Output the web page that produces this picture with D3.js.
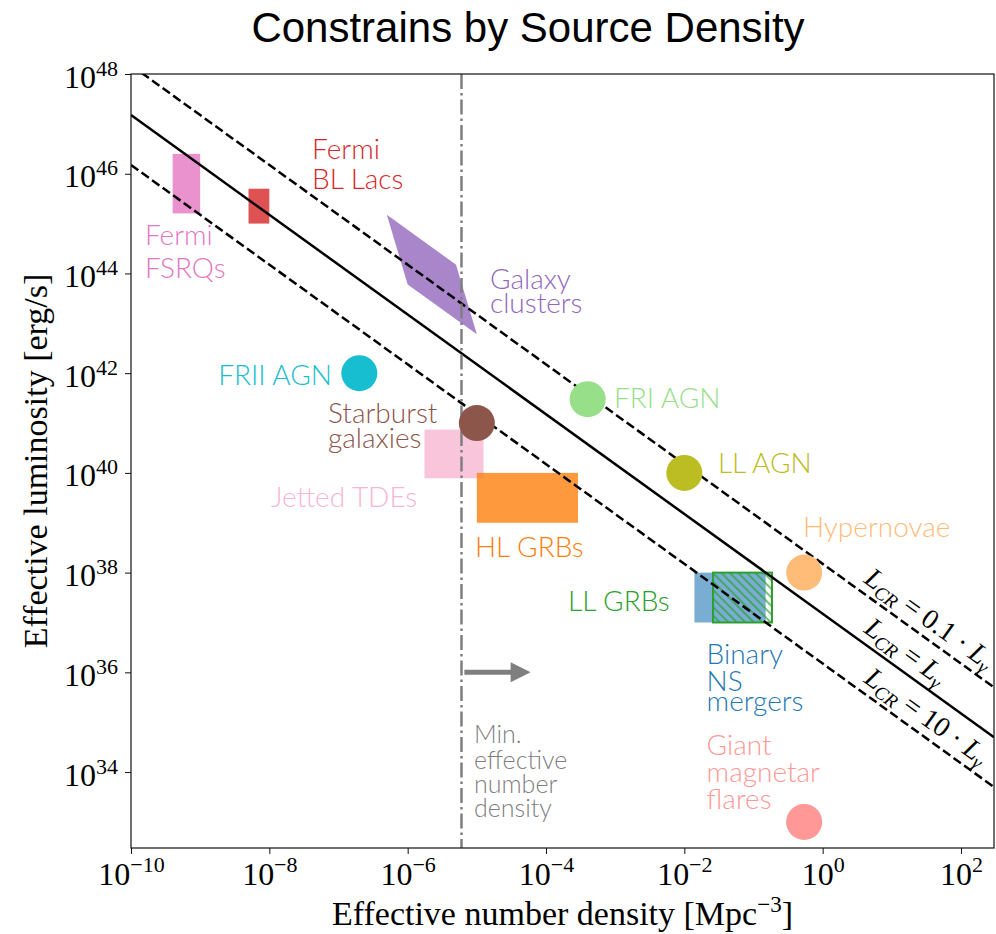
<!DOCTYPE html>
<html>
<head>
<meta charset="utf-8">
<script src="https://cdn.jsdelivr.net/npm/d3@7"></script>
<style>
  body { margin: 0; background: #fff; }
  svg { display: block; }
</style>
</head>
<body>
<div id="container"></div>
<script>
// boxes: number density range [Mpc^-3] and luminosity range [erg/s]
var boxNames  = ["Fermi FSRQs", "Fermi BL Lacs", "Jetted TDEs", "HL GRBs", "Binary NS mergers"];
var boxN      = [[4e-10, 1e-9], [5e-9, 1e-8], [1.75e-6, 1.25e-5], [1e-5, 2.9e-4], [1.4e-2, 1.5e-1]];
var boxL      = [[1.6e45, 2.5e46], [1e45, 5e45], [7.8e39, 7.4e40], [1e39, 1e40], [1e37, 1e38]];
var boxColors = ["#e377c2", "#d62728", "#f7b6d2", "#ff7f0e", "#1f77b4"];

// LL GRBs, hatched box
var hatchN = [2.6e-2, 1.85e-1];
var hatchL = [1e37, 1e38];

// galaxy clusters parallelogram [n, L]
var clusterPoly = [[5e-7, 1.5e45], [5e-6, 1.5e44], [1e-5, 6e42], [1e-6, 6e43]];

// single points
var pointNames  = ["FRII AGN", "FRI AGN", "Starburst galaxies", "LL AGN", "Hypernovae", "Giant magnetar flares"];
var pointN      = [2e-7, 4e-4, 1e-5, 1e-2, 0.54, 0.54];
var pointL      = [1e42, 3e41, 1e41, 1e40, 1e38, 1e33];
var pointColors = ["#17becf", "#98df8a", "#8c564b", "#bcbd22", "#ffbb78", "#ff9896"];

// L * n = const lines
var lineConst  = [1.5e38, 1.5e37, 1.5e36];
var lineFactor = ["0.1 · ", "", "10 · "];

var minDensity = 6e-6;
var arrowN = [6.6e-6, 6e-5];
var arrowL = 1e36;

var xTickExp = [-10, -8, -6, -4, -2, 0, 2];
var yTickExp = [34, 36, 38, 40, 42, 44, 46, 48];

// text annotations (anchored at data coords)
var labels = [
  { lines: ["Fermi", "BL Lacs"], n: 4.14e-8, L: 1.97e46, color: "#d62728", step: [30] },
  { lines: ["Fermi", "FSRQs"], n: 1.59e-10, L: 3.7e44, color: "#e377c2", step: [33] },
  { lines: ["Galaxy", "clusters"], n: 1.55e-5, L: 4.9e43, color: "#9467bd", step: [24] },
  { lines: ["FRII AGN"], n: 8.05e-8, L: 5.8e41, color: "#17becf", anchor: "end" },
  { lines: ["Starburst", "galaxies"], n: 7.05e-8, L: 1e41, color: "#8c564b", step: [25] },
  { lines: ["Jetted TDEs"], n: 1.06e-8, L: 2.07e39, color: "#f7b6d2" },
  { lines: ["FRI AGN"], n: 9.6e-4, L: 2e41, color: "#98df8a" },
  { lines: ["LL AGN"], n: 3.06e-2, L: 1e40, color: "#bcbd22" },
  { lines: ["HL GRBs"], n: 9.4e-6, L: 2.1e38, color: "#ff7f0e" },
  { lines: ["Hypernovae"], n: 0.52, L: 5.1e38, color: "#ffbb78" },
  { lines: ["LL GRBs"], n: 2.08e-4, L: 1.7e37, color: "#2ca02c" },
  { lines: ["Binary", "NS", "mergers"], n: 2.1e-2, L: 1.48e36, color: "#1f77b4", step: [27, 20] },
  { lines: ["Giant", "magnetar", "flares"], n: 2.1e-2, L: 2.2e34, color: "#ff9896", step: [27, 27] },
  { lines: ["Min.", "effective", "number", "density"], n: 9.1e-6, L: 3.8e34, color: "#7f7f7f", step: [26, 24, 24], size: 25 }
];

var width = 996, height = 934;
var padL = 131, padR = 994, padT = 74, padB = 848;
var serif = "'Liberation Serif', 'DejaVu Serif', serif";
var sans = "Lato, 'Open Sans', sans-serif";

var svg = d3.select("#container").append("svg")
  .attr("width", width)
  .attr("height", height);

var x = d3.scaleLog().domain([1e-10, 3e2]).range([padL, padR]);
var y = d3.scaleLog().domain([3e32, 1e48]).range([padB, padT]);

svg.append("text")
  .attr("x", 528).attr("y", 42)
  .attr("text-anchor", "middle")
  .style("font-family", "'Liberation Sans', Arial, sans-serif")
  .style("font-size", "42px")
  .text("Constrains by Source Density");

var defs = svg.append("defs");
defs.append("clipPath").attr("id", "plotclip")
  .append("rect").attr("x", padL).attr("y", padT)
  .attr("width", padR - padL).attr("height", padB - padT);

var hatch = defs.append("pattern")
  .attr("id", "hatch")
  .attr("patternUnits", "userSpaceOnUse")
  .attr("width", 6).attr("height", 6)
  .attr("patternTransform", "rotate(-45)");
hatch.append("line")
  .attr("x1", 3).attr("y1", -1).attr("x2", 3).attr("y2", 7)
  .style("stroke", "#2ca02c").style("stroke-width", 1.3);

var plot = svg.append("g").attr("clip-path", "url(#plotclip)");

// boxes
plot.selectAll("rect.box")
  .data(boxNames)
  .enter().append("rect")
  .attr("class", "box")
  .attr("x", function(d, i) { return x(boxN[i][0]); })
  .attr("y", function(d, i) { return y(boxL[i][1]); })
  .attr("width", function(d, i) { return x(boxN[i][1]) - x(boxN[i][0]); })
  .attr("height", function(d, i) { return y(boxL[i][0]) - y(boxL[i][1]); })
  .style("fill", function(d, i) { return boxColors[i]; })
  .style("fill-opacity", function(d, i) { return d == "Binary NS mergers" ? 0.6 : 0.8; });

// LL GRBs hatched
plot.append("rect")
  .attr("x", x(hatchN[0]))
  .attr("y", y(hatchL[1]))
  .attr("width", x(hatchN[1]) - x(hatchN[0]))
  .attr("height", y(hatchL[0]) - y(hatchL[1]))
  .style("fill", "url(#hatch)")
  .style("stroke", "#2ca02c")
  .style("stroke-width", 2);

// galaxy clusters
plot.append("path")
  .datum(clusterPoly)
  .attr("d", d3.line().x(function(d) { return x(d[0]); }).y(function(d) { return y(d[1]); }).curve(d3.curveLinearClosed))
  .style("fill", "#9467bd")
  .style("fill-opacity", 0.8);

// constant L*n lines
var nRange = x.domain();
plot.selectAll("line.const")
  .data(lineConst)
  .enter().append("line")
  .attr("class", "const")
  .attr("x1", x(nRange[0])).attr("x2", x(nRange[1]))
  .attr("y1", function(c) { return y(c / nRange[0]); })
  .attr("y2", function(c) { return y(c / nRange[1]); })
  .style("stroke", "#000")
  .style("stroke-width", 2.5)
  .style("stroke-dasharray", function(c, i) { return i == 1 ? null : "9,4"; });

// min density line
plot.append("line")
  .attr("x1", x(minDensity)).attr("x2", x(minDensity))
  .attr("y1", padT).attr("y2", padB)
  .style("stroke", "#7f7f7f")
  .style("stroke-width", 2.5)
  .style("stroke-dasharray", "15,4,2.5,4");

// arrow
var ax0 = x(arrowN[0]), ax1 = x(arrowN[1]), ay = y(arrowL);
plot.append("line")
  .attr("x1", ax0).attr("x2", ax1 - 18)
  .attr("y1", ay).attr("y2", ay)
  .style("stroke", "#7f7f7f")
  .style("stroke-width", 5);
plot.append("path")
  .attr("d", "M" + (ax1 - 20) + "," + (ay - 10) + "L" + ax1 + "," + ay + "L" + (ax1 - 20) + "," + (ay + 10) + "Z")
  .style("fill", "#7f7f7f");

// points
plot.selectAll("circle")
  .data(pointNames)
  .enter().append("circle")
  .attr("cx", function(d, i) { return x(pointN[i]); })
  .attr("cy", function(d, i) { return y(pointL[i]); })
  .attr("r", 18)
  .style("fill", function(d, i) { return pointColors[i]; });

// line labels
var angle = Math.atan2(y(1e40) - y(1e41), x(10) - x(1)) * 180 / Math.PI;
var labN = 3.2;
lineConst.forEach(function(c, i) {
  var px = x(labN), py = y(c / labN);
  var t = svg.append("text")
    .attr("transform", "translate(" + px + "," + py + ") rotate(" + angle + ")")
    .attr("y", -9)
    .style("font-family", serif)
    .style("font-size", "28px");
  t.append("tspan").style("font-style", "italic").text("L");
  t.append("tspan").style("font-style", "italic").style("font-size", "19px").attr("dy", 5).text("CR");
  t.append("tspan").attr("dy", -5).text(" = " + lineFactor[i]);
  t.append("tspan").style("font-style", "italic").text("L");
  t.append("tspan").style("font-style", "italic").style("font-size", "19px").attr("dy", 5).text("γ");
});

// annotations
labels.forEach(function(lab) {
  var t = svg.append("text")
    .attr("x", x(lab.n))
    .attr("y", y(lab.L))
    .attr("text-anchor", lab.anchor || "start")
    .style("font-family", sans)
    .style("font-weight", 300)
    .style("font-size", (lab.size || 28) + "px")
    .style("fill", lab.color);
  lab.lines.forEach(function(s, j) {
    t.append("tspan")
      .attr("x", x(lab.n))
      .attr("dy", j == 0 ? 0 : lab.step[j - 1])
      .text(s);
  });
});

// frame
svg.append("rect")
  .attr("x", padL).attr("y", padT)
  .attr("width", padR - padL).attr("height", padB - padT)
  .style("fill", "none")
  .style("stroke", "#111")
  .style("stroke-width", 1.2);

// axes
var xAxis = svg.append("g")
  .attr("transform", "translate(0," + padB + ")")
  .call(d3.axisBottom(x).tickValues(xTickExp.map(function(e) { return Math.pow(10, e); })).tickSize(6).tickFormat(""));
xAxis.select(".domain").remove();
xAxis.selectAll(".tick line").style("stroke", "#111");
xAxis.selectAll(".tick").append("text")
  .attr("y", 37)
  .attr("text-anchor", "middle")
  .style("fill", "#000")
  .style("font-family", serif)
  .each(function(d, i) {
    var t = d3.select(this);
    var e = xTickExp[i];
    t.append("tspan").style("font-size", "32px").text("10");
    t.append("tspan").style("font-size", "22px").attr("dy", -13).text(e < 0 ? "−" + (-e) : e);
  });

var yAxis = svg.append("g")
  .attr("transform", "translate(" + padL + ",0)")
  .call(d3.axisLeft(y).tickValues(yTickExp.map(function(e) { return Math.pow(10, e); })).tickSize(6).tickFormat(""));
yAxis.select(".domain").remove();
yAxis.selectAll(".tick line").style("stroke", "#111");
yAxis.selectAll(".tick").append("text")
  .attr("x", -13)
  .attr("y", 13)
  .attr("text-anchor", "end")
  .style("fill", "#000")
  .style("font-family", serif)
  .each(function(d, i) {
    var t = d3.select(this);
    t.append("tspan").style("font-size", "32px").text("10");
    t.append("tspan").style("font-size", "22px").attr("dy", -12).text(yTickExp[i]);
  });

// axis titles
var xt = svg.append("text")
  .attr("x", (padL + padR) / 2).attr("y", 925)
  .attr("text-anchor", "middle")
  .style("font-family", serif)
  .style("font-size", "34px");
xt.append("tspan").text("Effective number density [Mpc");
xt.append("tspan").style("font-size", "23px").attr("dy", -13).text("−3");
xt.append("tspan").attr("dy", 13).text("]");

svg.append("text")
  .attr("transform", "translate(47," + ((padT + padB) / 2) + ") rotate(-90)")
  .attr("text-anchor", "middle")
  .style("font-family", serif)
  .style("font-size", "34px")
  .text("Effective luminosity [erg/s]");
</script>
</body>
</html>
